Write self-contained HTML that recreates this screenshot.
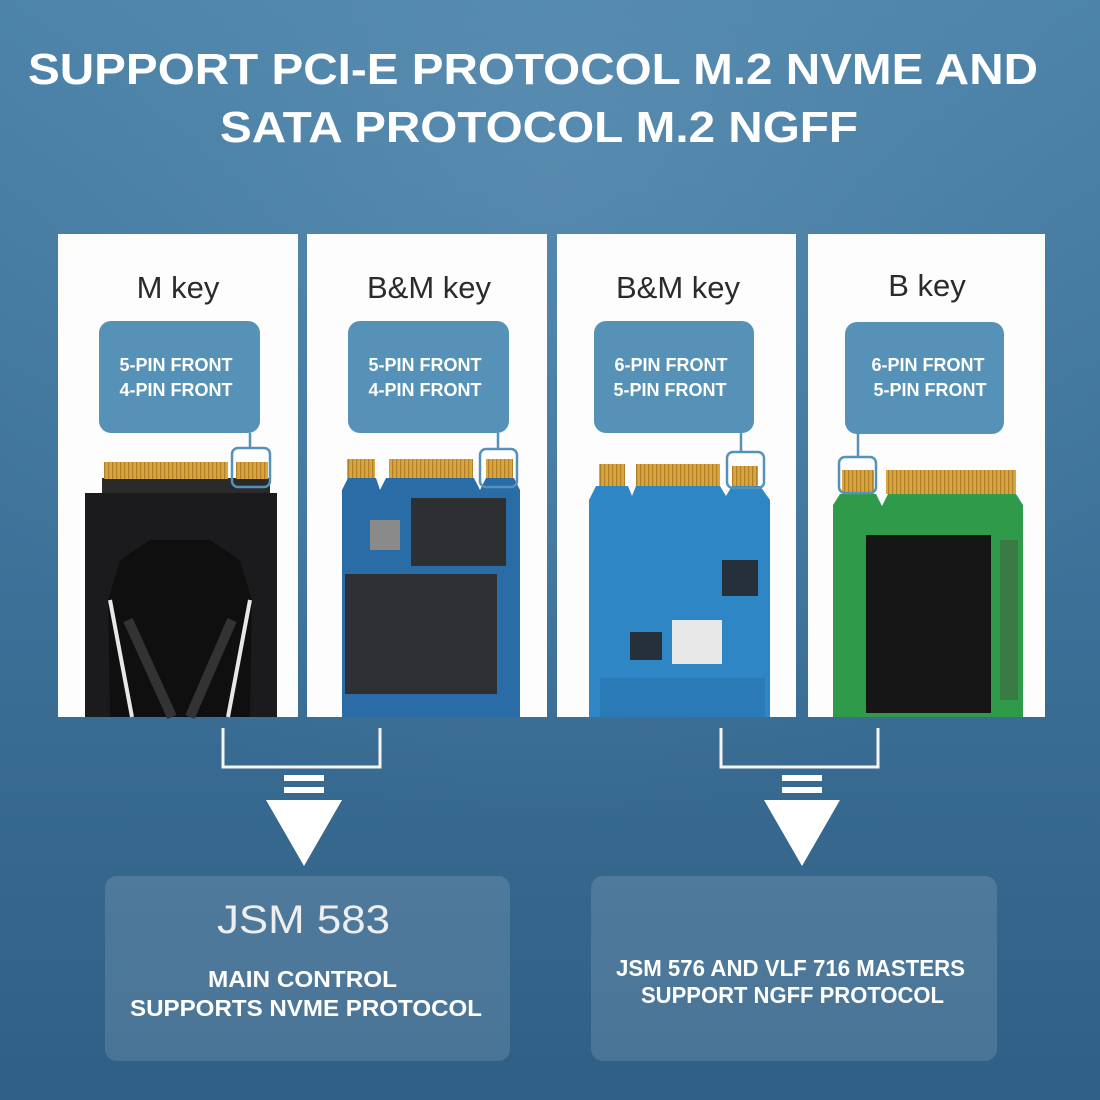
<!DOCTYPE html>
<html><head><meta charset="utf-8"><style>
html,body{margin:0;padding:0;width:1100px;height:1100px;overflow:hidden}
svg{display:block}
</style></head><body>
<svg width="1100" height="1100" viewBox="0 0 1100 1100" xmlns="http://www.w3.org/2000/svg">
<defs>
<linearGradient id="bg" x1="0" y1="0" x2="0" y2="1">
<stop offset="0" stop-color="#4b82a8"/><stop offset="0.5" stop-color="#3e7299"/><stop offset="1" stop-color="#2f5f85"/>
</linearGradient>
<radialGradient id="glow" cx="0.5" cy="0.15" r="0.6">
<stop offset="0" stop-color="#7aa7c6" stop-opacity="0.3"/><stop offset="1" stop-color="#7aa7c6" stop-opacity="0"/>
</radialGradient>
<pattern id="gold" width="4" height="10" patternUnits="userSpaceOnUse"><rect width="4" height="10" fill="#d9a640"/><rect width="1.3" height="10" fill="#b3802a"/></pattern>
</defs>
<rect width="1100" height="1100" fill="url(#bg)"/>
<rect width="1100" height="1100" fill="url(#glow)"/>

<g font-family="Liberation Sans, sans-serif" font-weight="bold" fill="#fff" font-size="44">
<text x="28" y="84" textLength="1010" lengthAdjust="spacingAndGlyphs">SUPPORT PCI-E PROTOCOL M.2 NVME AND</text>
<text x="220" y="142" textLength="638" lengthAdjust="spacingAndGlyphs">SATA PROTOCOL M.2 NGFF</text>
</g>

<g fill="#fdfdfd">
<rect x="58" y="234" width="240" height="483"/>
<rect x="307" y="234" width="240" height="483"/>
<rect x="557" y="234" width="239" height="483"/>
<rect x="808" y="234" width="237" height="483"/>
</g>
<g font-family="Liberation Sans, sans-serif" fill="#2b2b2b" font-size="31" text-anchor="middle">
<text x="178" y="298">M key</text>
<text x="429" y="298">B&amp;M key</text>
<text x="678" y="298">B&amp;M key</text>
<text x="927" y="296">B key</text>
</g>
<g fill="#5692b8">
<rect x="99" y="321" width="161" height="112" rx="12"/>
<rect x="348" y="321" width="161" height="112" rx="12"/>
<rect x="594" y="321" width="160" height="112" rx="12"/>
<rect x="845" y="322" width="159" height="112" rx="12"/>
</g>
<g font-family="Liberation Sans, sans-serif" font-weight="bold" fill="#fff" font-size="18" text-anchor="middle">
<text x="176" y="371">5-PIN FRONT</text><text x="176" y="396">4-PIN FRONT</text>
<text x="425" y="371">5-PIN FRONT</text><text x="425" y="396">4-PIN FRONT</text>
<text x="671" y="371">6-PIN FRONT</text><text x="670" y="396">5-PIN FRONT</text>
<text x="928" y="371">6-PIN FRONT</text><text x="930" y="396">5-PIN FRONT</text>
</g>

<rect x="102" y="478" width="168" height="20" fill="#2a2a2a"/>
<rect x="104" y="462" width="124" height="17" fill="url(#gold)"/>
<rect x="236" y="462" width="32" height="17" fill="url(#gold)"/>
<rect x="85" y="493" width="192" height="224" fill="#1b1b1d"/>
<path d="M110 717 L108 600 L120 560 L150 540 L210 540 L240 560 L252 600 L250 717" fill="#0f0f10"/>
<path d="M110 600 L132 717 M250 600 L228 717" stroke="#e8e8e8" stroke-width="4" fill="none"/>
<path d="M128 620 L172 717 M232 620 L190 717" stroke="#333" stroke-width="10" fill="none"/>

<rect x="347" y="459" width="28" height="20" fill="url(#gold)"/>
<rect x="389" y="459" width="84" height="20" fill="url(#gold)"/>
<rect x="486" y="459" width="27" height="20" fill="url(#gold)"/>
<path d="M342 717 L342 490 L348 478 L376 478 L380 490 L386 478 L474 478 L480 490 L486 478 L514 478 L520 490 L520 717 Z" fill="#2a6da6"/>
<rect x="411" y="498" width="95" height="68" fill="#2e2f33"/>
<rect x="345" y="574" width="152" height="120" fill="#2f3034"/>
<rect x="370" y="520" width="30" height="30" fill="#8a8a8a"/>

<rect x="599" y="464" width="26" height="22" fill="url(#gold)"/>
<rect x="636" y="464" width="84" height="22" fill="url(#gold)"/>
<rect x="732" y="466" width="26" height="20" fill="url(#gold)"/>
<path d="M589 717 L589 500 L596 486 L628 486 L632 496 L636 486 L720 486 L726 496 L732 486 L760 486 L770 500 L770 717 Z" fill="#2f86c4"/>
<rect x="672" y="620" width="50" height="44" fill="#e8e8e8"/>
<rect x="722" y="560" width="36" height="36" fill="#26303a"/>
<rect x="630" y="632" width="32" height="28" fill="#26303a"/>
<rect x="600" y="678" width="165" height="39" fill="#2a7ab8"/>

<rect x="842" y="470" width="32" height="24" fill="url(#gold)"/>
<rect x="886" y="470" width="130" height="24" fill="url(#gold)"/>
<path d="M833 717 L833 505 L840 494 L876 494 L882 506 L888 494 L1016 494 L1023 505 L1023 717 Z" fill="#2f9a4a"/>
<rect x="866" y="535" width="125" height="178" fill="#161616"/>
<rect x="1000" y="540" width="18" height="160" fill="#3a7a45"/>

<g fill="none" stroke="#5692b8" stroke-width="2.5">
<line x1="250" y1="433" x2="250" y2="448"/><rect x="232" y="448" width="38" height="39" rx="6"/>
<line x1="498" y1="433" x2="498" y2="449"/><rect x="480" y="449" width="37" height="38" rx="6"/>
<line x1="741" y1="433" x2="741" y2="452"/><rect x="727" y="452" width="37" height="36" rx="6"/>
<line x1="858" y1="434" x2="858" y2="457"/><rect x="839" y="457" width="37" height="36" rx="6"/>
</g>

<g fill="none" stroke="#f4f4f4" stroke-width="3">
<path d="M223 728 V767 H380 V728"/>
<path d="M721 728 V767 H878 V728"/>
</g>
<g fill="#fff">
<rect x="284" y="775" width="40" height="6"/><rect x="284" y="787" width="40" height="6"/>
<path d="M266 800 L342 800 L304 866 Z"/>
<rect x="782" y="775" width="40" height="6"/><rect x="782" y="787" width="40" height="6"/>
<path d="M764 800 L840 800 L802 866 Z"/>
</g>

<rect x="105" y="876" width="405" height="185" rx="12" fill="#ffffff" fill-opacity="0.13"/>
<rect x="591" y="876" width="406" height="185" rx="12" fill="#ffffff" fill-opacity="0.13"/>
<g font-family="Liberation Sans, sans-serif" fill="#fff">
<text x="217" y="933" font-size="40" fill="#eeeeee" textLength="173" lengthAdjust="spacingAndGlyphs">JSM 583</text>
<g font-weight="bold" font-size="23">
<text x="208" y="987" textLength="189" lengthAdjust="spacingAndGlyphs">MAIN CONTROL</text>
<text x="130" y="1016" textLength="352" lengthAdjust="spacingAndGlyphs">SUPPORTS NVME PROTOCOL</text>
<text x="616" y="976" textLength="349" lengthAdjust="spacingAndGlyphs">JSM 576 AND VLF 716 MASTERS</text>
<text x="641" y="1003" textLength="303" lengthAdjust="spacingAndGlyphs">SUPPORT NGFF PROTOCOL</text>
</g>
</g>
</svg>
</body></html>
